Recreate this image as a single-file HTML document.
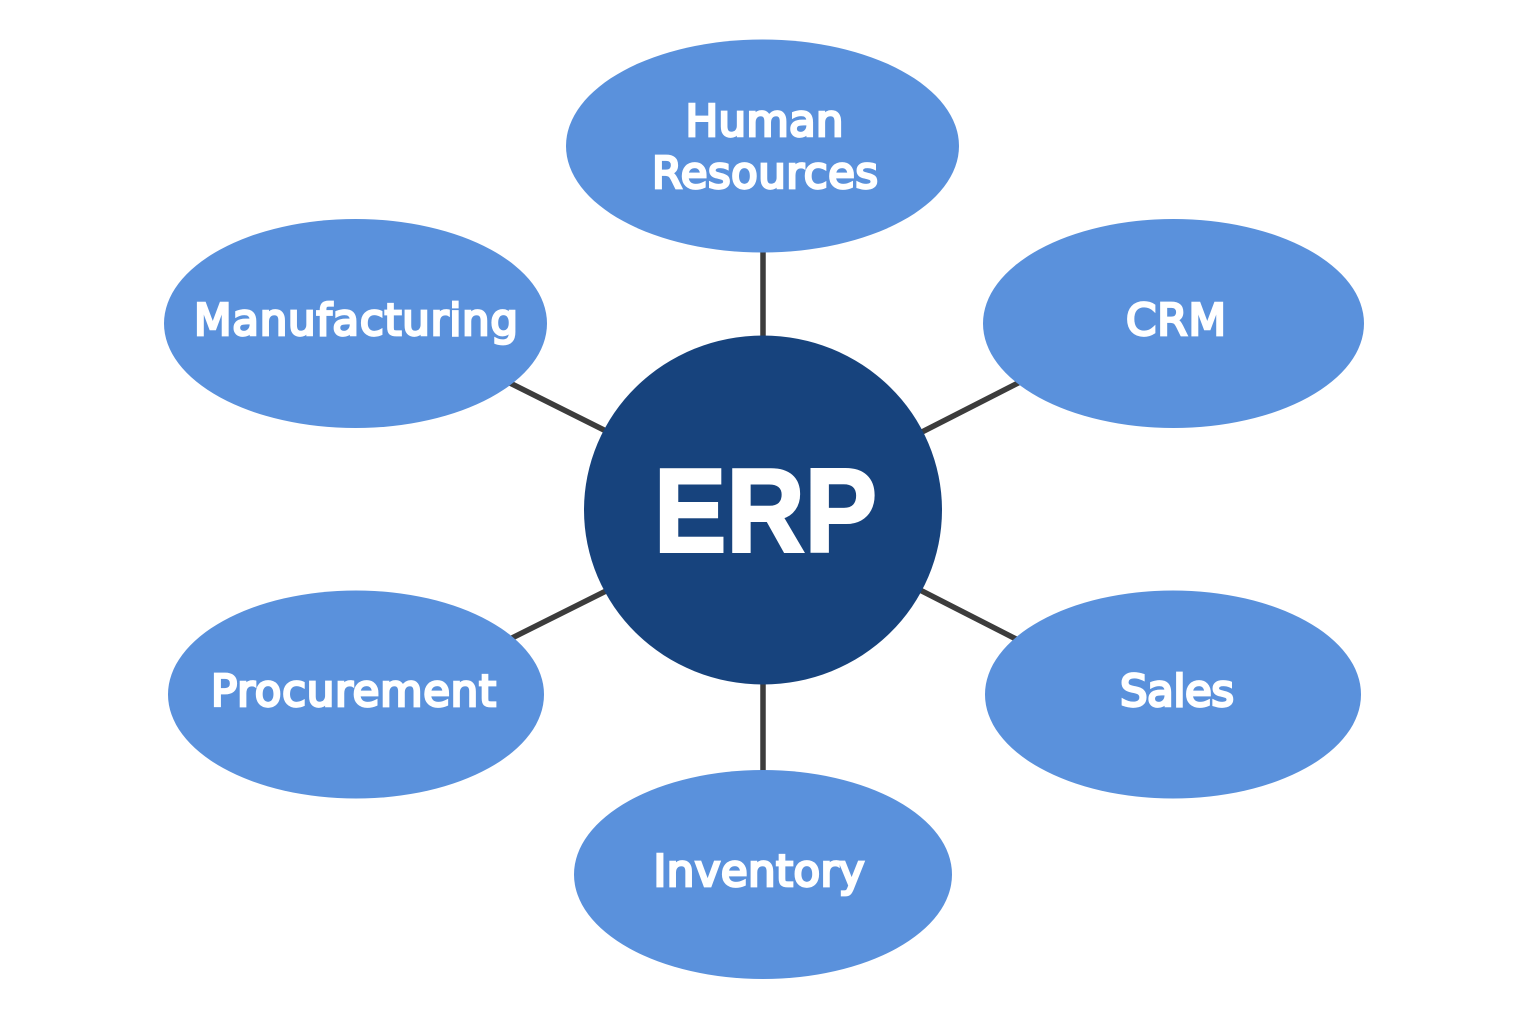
<!DOCTYPE html>
<html>
<head>
<meta charset="utf-8">
<style>
html,body{margin:0;padding:0;background:#fff;width:1536px;height:1024px;overflow:hidden}
svg{display:block}
text{fill:#fff;text-anchor:middle;stroke:#fff;stroke-linejoin:miter}
.l{font-family:"DejaVu Sans","Liberation Sans",sans-serif;font-weight:400;font-size:43.5px;stroke-width:2.7px}
.c{font-family:"Liberation Sans","DejaVu Sans",sans-serif;font-weight:700;font-size:119px;stroke-width:3px}
</style>
</head>
<body>
<svg width="1536" height="1024" viewBox="0 0 1536 1024" xmlns="http://www.w3.org/2000/svg">
<rect width="1536" height="1024" fill="#fff"/>
<g stroke="#3c3c3c" stroke-width="5.500" fill="none">
<line x1="763" y1="250" x2="763" y2="340"/>
<line x1="763" y1="680" x2="763" y2="772"/>
<line x1="508" y1="382" x2="608" y2="432"/>
<line x1="1020" y1="382" x2="920" y2="433"/>
<line x1="512" y1="638" x2="610" y2="589"/>
<line x1="1016" y1="639" x2="918" y2="589"/>
</g>
<g fill="#5a91dc">
<ellipse cx="762.500" cy="146" rx="196.500" ry="106.500"/>
<ellipse cx="355.500" cy="323.500" rx="191.500" ry="104.500"/>
<ellipse cx="1173.500" cy="323.500" rx="190.500" ry="104.500"/>
<ellipse cx="356" cy="694.500" rx="188" ry="104"/>
<ellipse cx="1173" cy="694.500" rx="188" ry="104"/>
<ellipse cx="763" cy="874.500" rx="189" ry="104.500"/>
</g>
<ellipse cx="763" cy="510" rx="179" ry="174.500" fill="#17437d"/>
<text class="c" x="765.500" y="551.500" textLength="223" lengthAdjust="spacingAndGlyphs">ERP</text>
<text class="l" x="764.500" y="136" textLength="158" lengthAdjust="spacing">Human</text>
<text class="l" x="765" y="188" textLength="226" lengthAdjust="spacing">Resources</text>
<text class="l" x="356" y="335" textLength="324" lengthAdjust="spacing">Manufacturing</text>
<text class="l" x="1176" y="335" textLength="100" lengthAdjust="spacing">CRM</text>
<text class="l" x="353.500" y="706" textLength="285" lengthAdjust="spacing">Procurement</text>
<text class="l" x="1177" y="706" textLength="114" lengthAdjust="spacing">Sales</text>
<text class="l" x="759" y="886" textLength="211" lengthAdjust="spacing">Inventory</text>
</svg>
</body>
</html>
